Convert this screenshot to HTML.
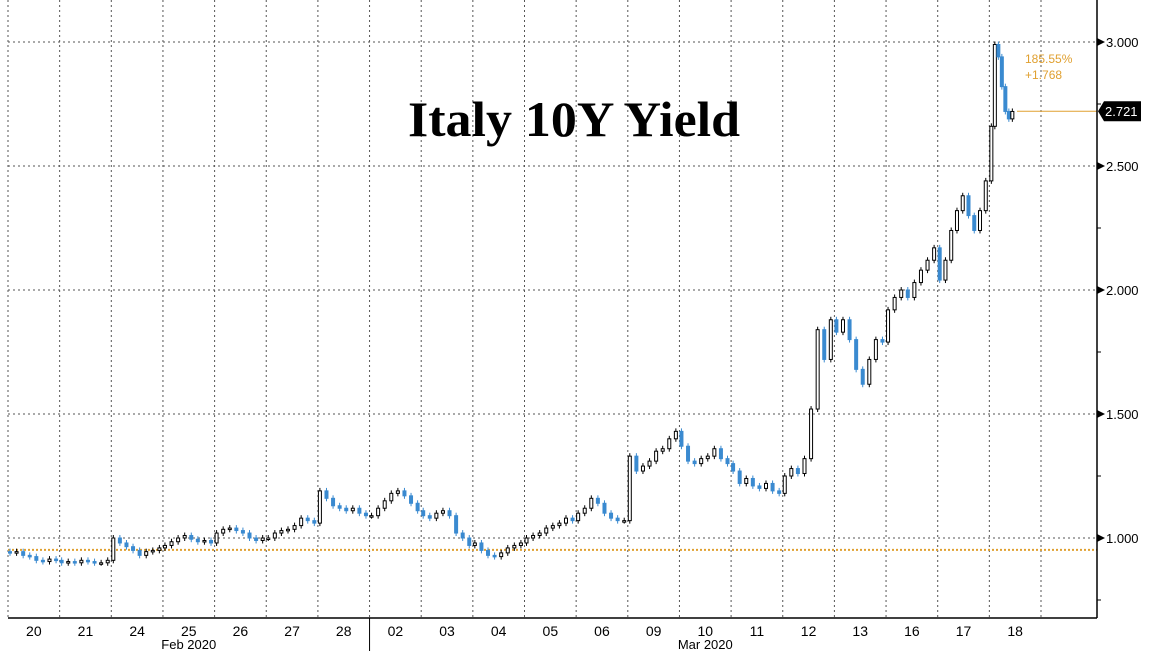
<!DOCTYPE html>
<html><head><meta charset="utf-8"><style>
html,body{margin:0;padding:0;background:#fff;}
svg{display:block;font-family:"Liberation Sans",sans-serif;}
</style></head><body>
<svg id="chart" width="1149" height="651" viewBox="0 0 1149 651" xmlns="http://www.w3.org/2000/svg">
<g id="grid"></g>
<g id="series"></g>
<g id="axes"></g>
<text x="574" y="136" text-anchor="middle" font-family="Liberation Serif, serif" font-weight="bold" font-size="50" textLength="332" lengthAdjust="spacingAndGlyphs" fill="#000">Italy 10Y Yield</text>
</svg>
<script>
const dayLabels = ["20","21","24","25","26","27","28","02","03","04","05","06","09","10","11","12","13","16","17","18"];
const monthLabels = ["Feb 2020","Mar 2020"];
const monthDayIndex = [3, 13];
const yTicks = [1.0, 1.5, 2.0, 2.5, 3.0];
const yTickLabels = ["1.000","1.500","2.000","2.500","3.000"];
const closes = [
 [0.94,0.945,0.93,0.925,0.91,0.905,0.915,0.91],
 [0.90,0.905,0.90,0.91,0.905,0.90,0.90,0.91],
 [1.00,0.98,0.965,0.95,0.93,0.945,0.95,0.96],
 [0.97,0.985,1.00,1.01,0.995,0.985,0.99,0.98],
 [1.02,1.035,1.04,1.03,1.02,1.00,0.99,1.00],
 [1.00,1.02,1.03,1.035,1.05,1.08,1.07,1.06],
 [1.19,1.16,1.13,1.12,1.11,1.12,1.10,1.09],
 [1.09,1.12,1.15,1.18,1.19,1.17,1.14,1.11],
 [1.09,1.08,1.10,1.11,1.09,1.02,1.00,0.97],
 [0.98,0.95,0.93,0.925,0.94,0.96,0.97,0.98],
 [1.00,1.01,1.02,1.04,1.05,1.06,1.08,1.07],
 [1.10,1.12,1.16,1.14,1.10,1.08,1.07,1.07],
 [1.33,1.27,1.29,1.31,1.35,1.36,1.40,1.43],
 [1.37,1.31,1.30,1.32,1.33,1.36,1.32,1.30],
 [1.27,1.22,1.24,1.21,1.20,1.22,1.19,1.18],
 [1.25,1.28,1.26,1.32,1.52,1.84,1.72,1.88],
 [1.83,1.88,1.80,1.68,1.62,1.72,1.80,1.79],
 [1.92,1.97,2.00,1.97,2.03,2.08,2.12,2.17],
 [2.04,2.12,2.24,2.32,2.38,2.30,2.24,2.32,2.44],
 [2.66,2.99,2.94,2.82,2.72,2.69,2.72]
];
const lastPrice = 2.721;
const refLevel = 0.952;
const pctChange = "185.55%";
const absChange = "+1.768";

const NS = "http://www.w3.org/2000/svg";
const X0 = 8, DW = 51.65, PLOT_R = 1097, AXIS_Y = 618;
function yScale(v){ return 42 + (3 - v) * 248; }
function xDay(i){ return X0 + i * DW; }
function mk(tag, attrs, parent){
  const e = document.createElementNS(NS, tag);
  for (const k in attrs) e.setAttribute(k, attrs[k]);
  parent.appendChild(e); return e;
}
const grid = document.getElementById('grid');
const series = document.getElementById('series');
const axes = document.getElementById('axes');

yTicks.forEach((v,i)=>{
  const l = mk('line',{x1:X0,x2:PLOT_R,y1:yScale(v),y2:yScale(v),stroke:'#555','stroke-width':1,'stroke-dasharray':'2,3'},grid);
  
  
});
for (let i=0;i<=dayLabels.length;i++){
  if (i===7) continue;
  const l = mk('line',{x1:xDay(i),x2:xDay(i),y1:0,y2:AXIS_Y,stroke:'#555','stroke-width':1,'stroke-dasharray':'2,3'},grid);
  
  
}
{
  const l = mk('line',{x1:xDay(7),x2:xDay(7),y1:0,y2:AXIS_Y,stroke:'#555','stroke-width':1,'stroke-dasharray':'2,3'},grid);
  
  
}
{
  const l = mk('line',{x1:X0,x2:PLOT_R,y1:yScale(refLevel),y2:yScale(refLevel),stroke:'#e0a030','stroke-width':2,'stroke-dasharray':'2,2'},grid);
  
  
}

let prev = closes[0][0] + 0.005;
closes.forEach((day, di)=>{
  const n = day.length;
  const last = di === closes.length - 1;
  const span = last ? 24 : DW * 0.95;
  day.forEach((c, k)=>{
    const o = prev;
    const cx = xDay(di) + 2 + k * (span - 3) / (n - 1 || 1);
    const hi = Math.max(o,c) + 0.012, lo = Math.min(o,c) - 0.012;
    const up = c >= o;
    const w = mk('line',{x1:cx,x2:cx,y1:yScale(hi),y2:yScale(lo),stroke:up?'#000':'#3a8ad0','stroke-width':1},series);
    
    
    const top = yScale(Math.max(o,c)), bot = yScale(Math.min(o,c));
    const r = mk('rect',{x:cx-1.5,y:top,width:3,height:Math.max(1.5,bot-top),fill:up?'#fff':'#3a8ad0',stroke:up?'#000':'#3a8ad0','stroke-width':1},series);
    
    
    prev = c;
  });
});

{
  const ly = yScale(lastPrice);
  const l = mk('line',{x1:1017,x2:PLOT_R,y1:ly,y2:ly,stroke:'#e0a030','stroke-width':1},axes);
  
  
  const t1 = mk('text',{x:1025,y:63,'font-size':12,fill:'#e0a030'},axes);
  t1.textContent = pctChange;
  
  
  const t2 = mk('text',{x:1025,y:79,'font-size':12,fill:'#e0a030'},axes);
  t2.textContent = absChange;
  
  
  const tag = mk('path',{d:`M1098 ${ly} L1104 ${ly-10} L1141 ${ly-10} L1141 ${ly+10} L1104 ${ly+10} Z`,fill:'#000'},axes);
  
  
  const tt = mk('text',{x:1105,y:ly+5,'font-size':13,fill:'#fff'},axes);
  tt.textContent = lastPrice.toFixed(3);
  
  
}

{
  const a = mk('line',{x1:PLOT_R,x2:PLOT_R,y1:0,y2:AXIS_Y,stroke:'#000','stroke-width':1.5},axes);
  
  
  for (let v=0.75; v<=3.25; v+=0.25){
    const t = mk('line',{x1:PLOT_R,x2:PLOT_R+4,y1:yScale(v),y2:yScale(v),stroke:'#000'},axes);
    
    
  }
  yTicks.forEach((v,i)=>{
    const y = yScale(v);
    const tr = mk('path',{d:`M${PLOT_R} ${y-4} L${PLOT_R+8} ${y} L${PLOT_R} ${y+4} Z`,fill:'#000'},axes);
    
    
    const t = mk('text',{x:1106,y:y+5,'font-size':13,fill:'#000'},axes);
    t.textContent = yTickLabels[i];
    
    
  });
}
{
  const a = mk('line',{x1:X0,x2:PLOT_R,y1:AXIS_Y,y2:AXIS_Y,stroke:'#000','stroke-width':1.5},axes);
  
  
  const s = mk('line',{x1:xDay(7),x2:xDay(7),y1:AXIS_Y,y2:651,stroke:'#000','stroke-width':1},axes);
  
  
  dayLabels.forEach((d,i)=>{
    const t = mk('text',{x:xDay(i)+DW/2,y:636,'font-size':14,'text-anchor':'middle',fill:'#000'},axes);
    t.textContent = d;
    
    
  });
  monthLabels.forEach((m,i)=>{
    const t = mk('text',{x:xDay(monthDayIndex[i])+DW/2,y:649,'font-size':13,'text-anchor':'middle',fill:'#000'},axes);
    t.textContent = m;
    
    
  });
}
</script>
</body></html>
